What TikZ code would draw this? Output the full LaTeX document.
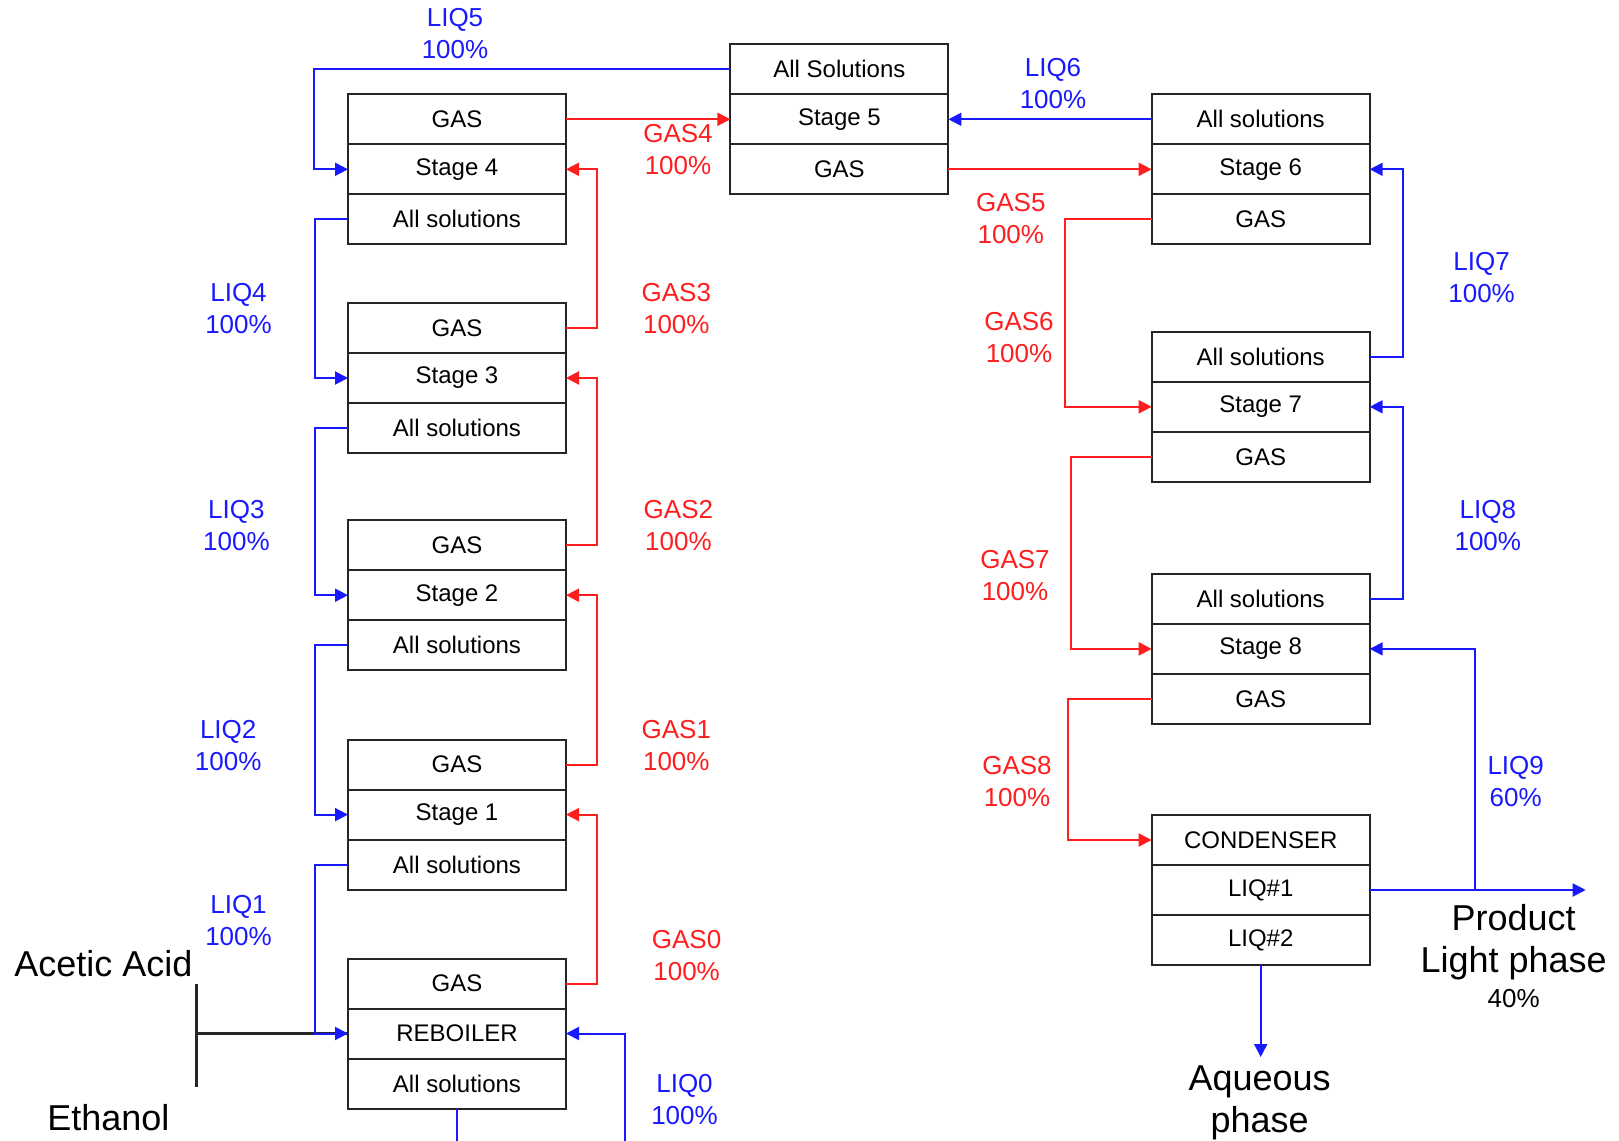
\documentclass[tikz,border=0pt]{standalone}
\usepackage{fontspec}
\setmainfont{Liberation Sans}
\usetikzlibrary{arrows.meta,positioning}
\definecolor{liqblue}{RGB}{25,25,255}
\definecolor{gasred}{RGB}{255,30,30}
\tikzset{
    cell/.style={draw=black!85, line width=1pt, minimum width=109pt, minimum height=25pt,
        inner sep=0pt, outer sep=0pt, font=\fontsize{12}{14}\selectfont},
    liq/.style={draw=liqblue, line width=1pt, -{Triangle[length=6.5pt,width=6.5pt]}},
    gas/.style={draw=gasred, line width=1pt, -{Triangle[length=6.5pt,width=6.5pt]}},
    liqlbl/.style={text=liqblue, align=center, inner sep=0pt, font=\fontsize{13}{16}\selectfont},
    gaslbl/.style={text=gasred, align=center, inner sep=0pt, font=\fontsize{13}{16}\selectfont},
    biglbl/.style={align=center, inner sep=0pt, font=\fontsize{18}{21}\selectfont}
}

\begin{document}
\begin{tikzpicture}[x=0.5pt, y=-0.5pt]
    \useasboundingbox (0,0) rectangle (1619,1141);

    \node[cell] (s4b) at (457,169.3) {Stage 4};
    \node[cell, above=0pt of s4b] (s4a) {GAS};
    \node[cell, below=0pt of s4b] (s4c) {All solutions};

    \node[cell] (s3b) at (457,378) {Stage 3};
    \node[cell, above=0pt of s3b] (s3a) {GAS};
    \node[cell, below=0pt of s3b] (s3c) {All solutions};

    \node[cell] (s2b) at (457,595.2) {Stage 2};
    \node[cell, above=0pt of s2b] (s2a) {GAS};
    \node[cell, below=0pt of s2b] (s2c) {All solutions};

    \node[cell] (s1b) at (457,814.6) {Stage 1};
    \node[cell, above=0pt of s1b] (s1a) {GAS};
    \node[cell, below=0pt of s1b] (s1c) {All solutions};

    \node[cell] (s0b) at (457,1033.5) {REBOILER};
    \node[cell, above=0pt of s0b] (s0a) {GAS};
    \node[cell, below=0pt of s0b] (s0c) {All solutions};

    \node[cell] (s5b) at (839.4,119.3) {Stage 5};
    \node[cell, above=0pt of s5b] (s5a) {All Solutions};
    \node[cell, below=0pt of s5b] (s5c) {GAS};

    \node[cell] (s6b) at (1260.7,169.3) {Stage 6};
    \node[cell, above=0pt of s6b] (s6a) {All solutions};
    \node[cell, below=0pt of s6b] (s6c) {GAS};

    \node[cell] (s7b) at (1260.7,406.8) {Stage 7};
    \node[cell, above=0pt of s7b] (s7a) {All solutions};
    \node[cell, below=0pt of s7b] (s7c) {GAS};

    \node[cell] (s8b) at (1260.7,648.9) {Stage 8};
    \node[cell, above=0pt of s8b] (s8a) {All solutions};
    \node[cell, below=0pt of s8b] (s8c) {GAS};

    \node[cell] (c1) at (1260.7,840) {CONDENSER};
    \node[cell, below=0pt of c1] (c2) {LIQ\#1};
    \node[cell, below=0pt of c2] (c3) {LIQ\#2};

    \coordinate (bartop) at (196,984);
    \coordinate (barbot) at (196,1087);
    \coordinate (feed) at (196,1033.5);
    \draw[black!85, line width=1.5pt] (bartop) -- (barbot);
    \draw[black!85, line width=1.5pt] (feed) -- (s0b.west);

    \draw[liq] (s5a.west) -- ++(-416,0) |- (s4b.west);
    \draw[liq] (s4c.west) -- ++(-33,0) |- (s3b.west);
    \draw[liq] (s3c.west) -- ++(-33,0) |- (s2b.west);
    \draw[liq] (s2c.west) -- ++(-33,0) |- (s1b.west);
    \draw[liq] (s1c.west) -- ++(-33,0) |- (s0b.west);
    \path (s0b.east) ++(58.7,107.5) coordinate (liq0in);
    \draw[liq] (liq0in) |- (s0b.east);
    \draw[liq, -] (s0c.south) -- ++(0,32);

    \draw[gas] (s0a.east) -- ++(31,0) |- (s1b.east);
    \draw[gas] (s1a.east) -- ++(31,0) |- (s2b.east);
    \draw[gas] (s2a.east) -- ++(31,0) |- (s3b.east);
    \draw[gas] (s3a.east) -- ++(31,0) |- (s4b.east);
    \draw[gas] (s4a.east) -- (s5b.west);
    \draw[gas] (s5c.east) -- (s6b.west);
    \draw[liq] (s6a.west) -- (s5b.east);

    \draw[gas] (s6c.west) -- ++(-86.5,0) |- (s7b.west);
    \draw[gas] (s7c.west) -- ++(-81,0) |- (s8b.west);
    \draw[gas] (s8c.west) -- ++(-84,0) |- (c1.west);
    \draw[liq] (s7a.east) -- ++(33,0) |- (s6b.east);
    \draw[liq] (s8a.east) -- ++(33,0) |- (s7b.east);

    \path (c2.east) ++(105,0) coordinate (split) ++(111,0) coordinate (prodend);
    \draw[liq] (c2.east) -- (prodend);
    \draw[liq] (split) |- (s8b.east);
    \path (c3.south) ++(0,92) coordinate (aqend);
    \draw[liq] (c3.south) -- (aqend);

    \node[liqlbl] (l5) at (455,34) {LIQ5\\100\%};
    \node[gaslbl] (g4) at (678,149.7) {GAS4\\100\%};
    \node[liqlbl] (l6) at (1053,83.1) {LIQ6\\100\%};
    \node[gaslbl] (g5) at (1010.8,218.4) {GAS5\\100\%};
    \node[liqlbl] (l4) at (238.5,308.2) {LIQ4\\100\%};
    \node[gaslbl] (g3) at (676.3,308.2) {GAS3\\100\%};
    \node[liqlbl] (l7) at (1481.6,277.2) {LIQ7\\100\%};
    \node[gaslbl] (g6) at (1019,337.1) {GAS6\\100\%};
    \node[liqlbl] (l3) at (236.4,526) {LIQ3\\100\%};
    \node[gaslbl] (g2) at (678.4,526) {GAS2\\100\%};
    \node[liqlbl] (l8) at (1487.8,526) {LIQ8\\100\%};
    \node[gaslbl] (g7) at (1015,575.6) {GAS7\\100\%};
    \node[liqlbl] (l2) at (228.2,746) {LIQ2\\100\%};
    \node[gaslbl] (g1) at (676.3,746) {GAS1\\100\%};
    \node[gaslbl] (g8) at (1017,781.1) {GAS8\\100\%};
    \node[liqlbl] (l9) at (1515.7,781.1) {LIQ9\\60\%};
    \node[liqlbl] (l1) at (238.5,920.5) {LIQ1\\100\%};
    \node[gaslbl] (g0) at (686.6,955.6) {GAS0\\100\%};
    \node[liqlbl] (l0) at (684.5,1099.1) {LIQ0\\100\%};

    \node[biglbl] (acid) at (103.3,963.3) {Acetic Acid};
    \node[biglbl] (etoh) at (108.4,1117.2) {Ethanol};
    \node[biglbl] (prod) at (1513.6,942) {Product\\Light phase};
    \node[inner sep=0pt, font=\fontsize{13}{16}\selectfont] (prodpct) at (1513.6,998.4) {40\%};
    \node[biglbl] (aq) at (1259.7,1103) {Aqueous\\phase};
\end{tikzpicture}
\end{document}
